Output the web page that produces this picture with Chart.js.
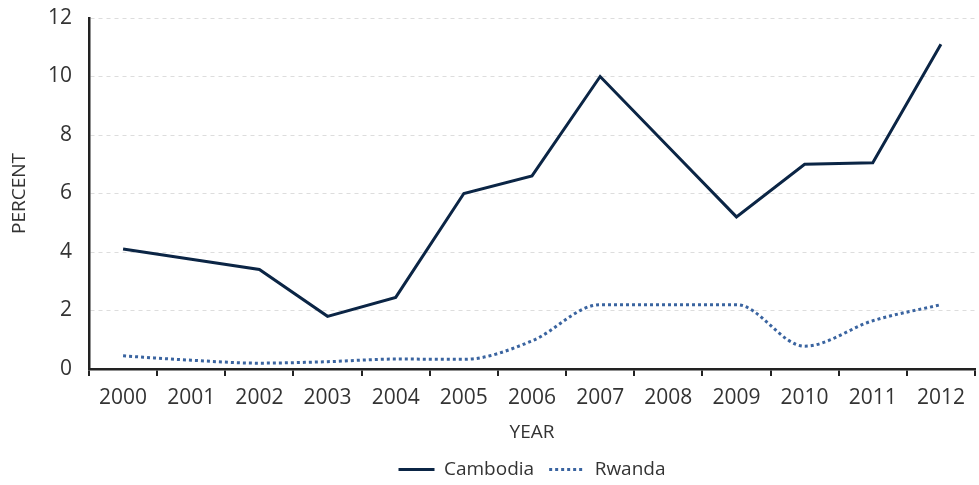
<!DOCTYPE html>
<html>
<head>
<meta charset="utf-8">
<script src="https://cdn.jsdelivr.net/npm/chart.js@4"></script>
<style>
  html, body { margin: 0; padding: 0; background: #fff; }
  #wrap { width: 979px; height: 485px; position: relative; }
</style>
</head>
<body>
<div id="wrap"><canvas id="chart"></canvas></div>
<script>
const years = ["2000", "2001", "2002", "2003", "2004", "2005", "2006", "2007", "2008", "2009", "2010", "2011", "2012"];
const cambodia = [4.1, 3.75, 3.4, 1.8, 2.45, 6.0, 6.6, 10.0, 7.6, 5.2, 7.0, 7.05, 11.1];
const rwanda = [0.45, 0.3, 0.2, 0.25, 0.34, 0.33, 0.96, 2.2, 2.2, 2.2, 0.78, 1.65, 2.2];
const yTicks = [0, 2, 4, 6, 8, 10, 12];

const font = "'Open Sans', 'DejaVu Sans', sans-serif";
const textColor = "#333";

// fixed legend height, and legend centred under the plot area rather than the canvas
const legendLayout = {
  id: "legendLayout",
  beforeLayout(chart) {
    const lg = chart.legend;
    if (!lg || lg._fixed) return;
    const fit = lg.fit.bind(lg);
    lg.fit = function () { fit(); this.height = 40; };
    lg._fixed = true;
  },
  afterLayout(chart) {
    const lg = chart.legend;
    if (!lg) return;
    lg.left = chart.chartArea.left;
    lg.right = chart.chartArea.right;
    lg.width = lg.right - lg.left;
  },
};

new Chart(document.getElementById("chart"), {
  type: "line",
  data: {
    labels: years,
    datasets: [
      { label: "Cambodia", data: cambodia, borderColor: "#0b2545", backgroundColor: "#0b2545",
        borderWidth: 3, pointRadius: 0, tension: 0 },
      { label: "Rwanda", data: rwanda, borderColor: "#3a64a0", backgroundColor: "#3a64a0",
        borderWidth: 3, borderDash: [3, 3], pointRadius: 0, cubicInterpolationMode: "monotone" },
    ],
  },
  options: {
    responsive: true, maintainAspectRatio: false, animation: false,
    layout: { padding: { top: 0, right: 4, left: 0, bottom: 0 } },
    plugins: {
      tooltip: { enabled: false },
      legend: {
        position: "bottom",
        labels: {
          usePointStyle: true, pointStyle: "line", pointStyleWidth: 36, boxWidth: 36, boxHeight: 12,
          color: textColor, font: { family: font, size: 19 }, padding: 15,
          generateLabels: (chart) => Chart.defaults.plugins.legend.labels.generateLabels(chart)
            .map((l, i) => ({ ...l, lineWidth: 3, pointStyle: "line", lineDash: chart.data.datasets[i].borderDash || [] })),
        },
      },
    },
    scales: {
      x: {
        offset: true,
        grid: { offset: true, drawOnChartArea: false, drawTicks: true, tickLength: 7, color: "#222", lineWidth: 2 },
        border: { color: "#222", width: 2.5 },
        ticks: { color: textColor, font: { family: font, size: 21 }, padding: 9, maxRotation: 0, autoSkip: false },
        title: { display: true, text: "YEAR", color: textColor, font: { family: font, size: 19 }, padding: { top: 2, bottom: 1 } },
      },
      y: {
        min: 0, max: 12,
        afterBuildTicks: (axis) => { axis.ticks = yTicks.map((v) => ({ value: v })); },
        afterFit: (axis) => { axis.width = 89; axis.paddingTop = 18; axis.paddingBottom = 0; },
        grid: { drawTicks: false, color: "#dddddd", lineWidth: 1 },
        border: { color: "#222", width: 2.5, dash: [4, 4] },
        ticks: { color: textColor, font: { family: font, size: 21 }, padding: 17 },
        title: { display: true, text: "PERCENT", color: textColor, font: { family: font, size: 19 }, padding: { top: 8, bottom: 0 } },
      },
    },
  },
  plugins: [legendLayout],
});
</script>
</body>
</html>
